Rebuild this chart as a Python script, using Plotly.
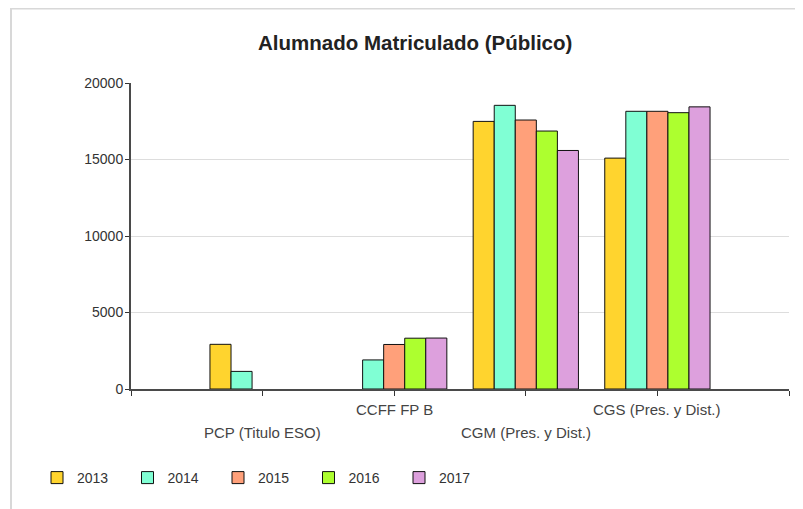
import plotly.graph_objects as go

categories = ["PCP (Titulo ESO)", "CCFF FP B", "CGM (Pres. y Dist.)", "CGS (Pres. y Dist.)"]
years = ["2013", "2014", "2015", "2016", "2017"]
v2013 = [2920, None, 17490, 15090]
v2014 = [1150, 1900, 18540, 18150]
v2015 = [None, 2910, 17580, 18150]
v2016 = [None, 3320, 16860, 18060]
v2017 = [None, 3330, 15590, 18440]
series = [v2013, v2014, v2015, v2016, v2017]
colors = ["#FFD42E", "#80FFD4", "#FFA07A", "#ADFF2F", "#DDA0DD"]
y_ticks = [0, 5000, 10000, 15000, 20000]

FONT = "Liberation Sans, Arial, sans-serif"
OFF = 8  # page body margin
W, H = 803 - OFF, 509 - OFF
# plot area in screen pixels: x 131..789, y 83..389
L, R, T, B = 131 - OFF, W - (789 - OFF), 83 - OFF, H - (389 - OFF)
pw, ph = W - L - R, H - T - B


def px_x(p):
    return (p - OFF - L) / pw


def px_y(p):
    return (H - B - (p - OFF)) / ph


xpos = list(range(1, len(categories) + 1))

fig = go.Figure()
for name, vals, col in zip(years, series, colors):
    fig.add_trace(go.Bar(
        x=xpos, y=vals, name=name,
        marker=dict(color=col, line=dict(color="#111111", width=1)),
    ))

annotations = []
for i, cat in enumerate(categories):
    lower = (i % 2 == 0)
    annotations.append(dict(
        x=xpos[i], xref="x", y=px_y(432 if lower else 409), yref="paper",
        text=cat, showarrow=False, xanchor="center", yanchor="middle",
        font=dict(family=FONT, size=15, color="#444444"),
    ))
annotations.append(dict(
    x=px_x(415), xref="paper", y=px_y(42), yref="paper",
    text="<b>Alumnado Matriculado (Público)</b>", showarrow=False,
    xanchor="center", yanchor="middle",
    font=dict(family=FONT, size=20.5, color="#222222"),
))

shapes = [
    dict(type="line", xref="paper", yref="paper",
         x0=px_x(11), x1=px_x(11), y0=px_y(8), y1=px_y(H + 20),
         line=dict(color="#d8d8d8", width=2)),
    dict(type="line", xref="paper", yref="paper",
         x0=px_x(11), x1=px_x(W + 20), y0=px_y(8.5), y1=px_y(8.5),
         line=dict(color="#d8d8d8", width=2)),
]

fig.update_layout(
    width=W, height=H,
    margin=dict(l=L, r=R, t=T, b=B, autoexpand=False),
    paper_bgcolor="white", plot_bgcolor="white",
    barmode="group", bargap=0.2, bargroupgap=0,
    font=dict(family=FONT, size=13, color="#333333"),
    showlegend=True,
    legend=dict(
        orientation="h", x=px_x(37), y=px_y(478), xanchor="left", yanchor="middle",
        entrywidth=45.5, entrywidthmode="pixels",
        font=dict(family=FONT, size=14, color="#333333"),
        traceorder="normal",
    ),
    annotations=annotations,
    shapes=shapes,
    xaxis=dict(
        range=[0, 5], tickmode="array", tickvals=[0, 1, 2, 3, 4, 5],
        showticklabels=False, ticks="outside", ticklen=5, tickcolor="#333333",
        showline=True, linecolor="#4a4a4a", linewidth=2, showgrid=False, zeroline=False,
        fixedrange=True,
    ),
    yaxis=dict(
        range=[0, 20000], tickmode="array", tickvals=y_ticks,
        ticktext=[str(t) for t in y_ticks],
        ticks="outside", ticklen=4, tickcolor="#333333",
        ticklabelstandoff=-1,
        showline=True, linecolor="#4a4a4a", linewidth=2,
        showgrid=True, gridcolor="#dddddd", gridwidth=1, zeroline=False,
        tickfont=dict(family=FONT, size=14, color="#333333"),
        fixedrange=True,
    ),
)

fig.write_html("out.html")
